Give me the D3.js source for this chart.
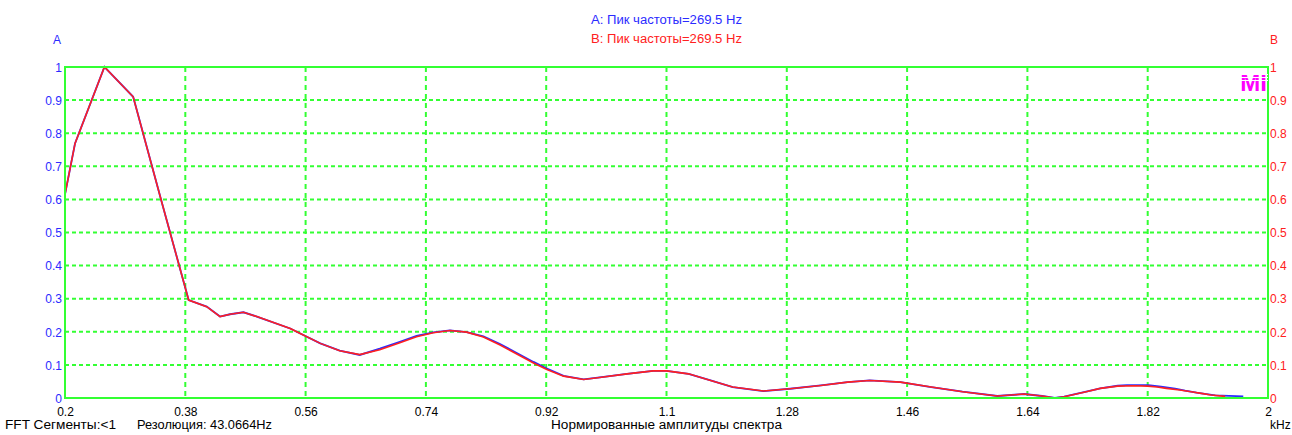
<!DOCTYPE html>
<html>
<head>
<meta charset="utf-8">
<script src="https://cdn.jsdelivr.net/npm/d3@7/dist/d3.min.js"></script>
<style>
  html, body { margin: 0; padding: 0; background: #ffffff; }
  svg { display: block; }
  text { font-family: "Liberation Sans", Arial, sans-serif; font-size: 12px; }
</style>
</head>
<body>
<svg id="chart" width="1292" height="435"></svg>
<script>
// ---- data ----
const freqB = [0.200,0.215,0.259,0.302,0.345,0.385,0.412,0.432,0.447,0.467,0.487,0.537,0.552,0.582,0.611,0.641,0.671,0.701,0.726,0.751,0.776,0.801,0.826,0.851,0.876,0.901,0.921,0.946,0.976,1.000,1.041,1.080,1.100,1.133,1.166,1.199,1.245,1.285,1.331,1.371,1.404,1.450,1.496,1.543,1.595,1.635,1.662,1.681,1.695,1.728,1.749,1.775,1.800,1.820,1.834,1.848,1.868,1.885,1.900,1.915,1.936];
const ampB  = [0.615,0.769,1.000,0.910,0.590,0.296,0.276,0.246,0.253,0.259,0.246,0.210,0.195,0.165,0.143,0.131,0.146,0.167,0.185,0.197,0.204,0.199,0.184,0.160,0.133,0.106,0.086,0.066,0.056,0.062,0.073,0.082,0.082,0.073,0.053,0.033,0.021,0.028,0.038,0.048,0.053,0.048,0.033,0.019,0.006,0.012,0.006,0.000,0.004,0.019,0.029,0.036,0.037,0.036,0.033,0.029,0.024,0.019,0.014,0.009,0.005];
const freqA = [0.200,0.215,0.259,0.302,0.345,0.385,0.412,0.432,0.447,0.467,0.487,0.537,0.552,0.582,0.611,0.641,0.671,0.701,0.726,0.751,0.776,0.801,0.826,0.851,0.876,0.901,0.921,0.946,0.976,1.000,1.041,1.080,1.100,1.133,1.166,1.199,1.245,1.285,1.331,1.371,1.404,1.450,1.496,1.543,1.595,1.635,1.662,1.681,1.695,1.728,1.749,1.775,1.789,1.821,1.840,1.861,1.876,1.893,1.908,1.921,1.963];
const ampA  = [0.615,0.769,1.000,0.910,0.590,0.296,0.276,0.246,0.253,0.259,0.246,0.210,0.195,0.165,0.143,0.130,0.149,0.170,0.188,0.198,0.204,0.199,0.186,0.163,0.136,0.109,0.089,0.067,0.056,0.062,0.073,0.082,0.082,0.073,0.053,0.033,0.021,0.028,0.038,0.048,0.053,0.048,0.033,0.019,0.006,0.012,0.006,0.000,0.004,0.019,0.029,0.037,0.039,0.039,0.034,0.028,0.022,0.016,0.012,0.008,0.005];
const xTicks = [0.2,0.38,0.56,0.74,0.92,1.1,1.28,1.46,1.64,1.82,2];
const yTicks = [0,0.1,0.2,0.3,0.4,0.5,0.6,0.7,0.8,0.9,1];
const titleA = "A: Пик частоты=269.5 Hz";
const titleB = "B: Пик частоты=269.5 Hz";
const footerLeft = "FFT Сегменты:<1";
const footerRes = "Резолюция: 43.0664Hz";
const footerCenter = "Нормированные амплитуды спектра";
const unitLabel = "kHz";

// ---- layout ----
const svg = d3.select("#chart");
const L = 65, R = 1268, T = 67, B = 398;
const x = d3.scaleLinear().domain([0.2, 2]).range([L, R]);
const y = d3.scaleLinear().domain([0, 1]).range([B, T]);
const green = "#33ff33", blue = "#2b2bff", red = "#ff2020";

// grid
const grid = svg.append("g");
grid.selectAll("line.h").data(yTicks.slice(1, -1)).enter().append("line")
  .attr("x1", L).attr("x2", R).attr("y1", d => y(d)).attr("y2", d => y(d))
  .attr("stroke", green).attr("stroke-width", 2).attr("stroke-dasharray", "4,3");
grid.selectAll("line.v").data(xTicks.slice(1, -1)).enter().append("line")
  .attr("y1", T).attr("y2", B).attr("x1", d => x(d)).attr("x2", d => x(d))
  .attr("stroke", green).attr("stroke-width", 2).attr("stroke-dasharray", "5,4");

// curves
const line = d3.line().x(d => x(d[0])).y(d => y(d[1]));
svg.append("path").datum(d3.zip(freqA, ampA)).attr("d", line)
  .attr("fill", "none").attr("stroke", blue).attr("stroke-width", 1.8);
svg.append("path").datum(d3.zip(freqB, ampB)).attr("d", line)
  .attr("fill", "none").attr("stroke", red).attr("stroke-width", 1.6);

// frame
svg.append("rect").attr("x", L).attr("y", T).attr("width", R - L).attr("height", B - T)
  .attr("fill", "none").attr("stroke", green).attr("stroke-width", 2);

// axes
const axL = d3.axisLeft(y).tickValues(yTicks).tickFormat(d3.format("~g")).tickSize(0).tickPadding(3);
const gL = svg.append("g").attr("transform", `translate(${L},0)`).call(axL);
gL.select(".domain").remove();
gL.selectAll("text").attr("fill", blue).style("font-size", "12px").attr("dy", "0.35em");

const axR = d3.axisRight(y).tickValues(yTicks).tickFormat(d3.format("~g")).tickSize(0).tickPadding(2);
const gR = svg.append("g").attr("transform", `translate(${R},0)`).call(axR);
gR.select(".domain").remove();
gR.selectAll("text").attr("fill", red).style("font-size", "12px").attr("dy", "0.35em");

const axB = d3.axisBottom(x).tickValues(xTicks).tickFormat(d3.format("~g")).tickSize(0).tickPadding(9);
const gB = svg.append("g").attr("transform", `translate(0,${B})`).call(axB);
gB.select(".domain").remove();
gB.selectAll("text").attr("fill", "#000").style("font-size", "12px");

// labels
function label(tx, ty, str, color, anchor, len) {
  const t = svg.append("text").attr("x", tx).attr("y", ty).attr("text-anchor", anchor || "start")
    .attr("fill", color).text(str);
  if (len) t.attr("textLength", len).attr("lengthAdjust", "spacingAndGlyphs");
  return t;
}
label(57, 44, "A", blue, "middle");
label(1274, 44, "B", red, "middle");
label((L + R) / 2, 24, titleA, blue, "middle", 151);
label((L + R) / 2, 43, titleB, red, "middle", 151);
label(5, 429, footerLeft, "#000", "start", 111);
label(137, 429, footerRes, "#000", "start", 135);
label((L + R) / 2, 429, footerCenter, "#000", "middle", 231);
label(1270, 429, unitLabel, "#000", "start");

// logo
const logo = svg.append("g");
logo.append("text").attr("x", 1267).attr("y", 91).attr("text-anchor", "end")
  .attr("fill", "#ff00ff").style("font-size", "24px").style("font-weight", "bold").text("MI");
[74, 77, 80].forEach(yy => logo.append("rect").attr("x", 1241).attr("y", yy).attr("width", 27).attr("height", 1).attr("fill", "#fff"));
</script>
</body>
</html>
